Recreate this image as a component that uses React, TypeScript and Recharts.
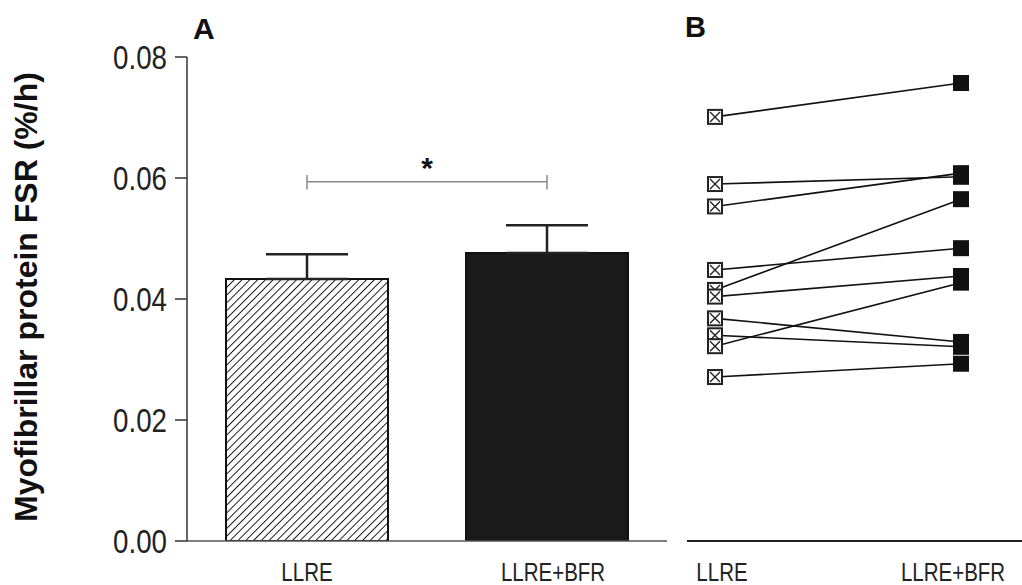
import React from 'react';
import {
  BarChart,
  Bar,
  Cell,
  XAxis,
  YAxis,
  ErrorBar,
  ReferenceLine,
  Label,
  LineChart,
  Line,
} from 'recharts';

// ---- data ----
const conditions = ['LLRE', 'LLRE+BFR'];
const meanFSR = [0.0433, 0.0476];
const semFSR = [0.0041, 0.0046];
const yTicks = [0, 0.02, 0.04, 0.06, 0.08];
const subjectLLRE = [0.0701, 0.059, 0.0553, 0.0448, 0.0415, 0.0404, 0.0368, 0.034, 0.0322, 0.0271];
const subjectLLREBFR = [0.0757, 0.0602, 0.0608, 0.0484, 0.0565, 0.0438, 0.0329, 0.0321, 0.0427, 0.0293];
const sigY = 0.0594;
const sigTickLow = 0.0581;
const sigTickHigh = 0.0605;
const yLabel = 'Myofibrillar protein FSR (%/h)';

const barData = conditions.map((c, i) => ({ cond: c, mean: meanFSR[i], err: [0, semFSR[i]] }));
const lineData = conditions.map((c, i) => {
  const row: any = { cond: c };
  subjectLLRE.forEach((v, j) => {
    row[`s${j}`] = i === 0 ? v : subjectLLREBFR[j];
  });
  return row;
});

const W = 1022;
const H = 585;
const sans = "'Liberation Sans', Arial, sans-serif";

const makeXTick = (shifts: number[]) => (props: any) => {
  const { x, y, payload, index } = props;
  const dx = shifts[index] ?? 0;
  return (
    <text
      transform={`translate(${x + dx},${y + 18}) scale(0.82,1)`}
      textAnchor="middle"
      fontFamily={sans}
      fontSize={25}
      fill="#222"
    >
      {payload.value}
    </text>
  );
};
const XTickA = makeXTick([0, 6]);
const XTickB = makeXTick([7, -8]);

const NarrowYTick = (props: any) => {
  const { x, y, payload } = props;
  return (
    <text
      transform={`translate(${x},${y + 11.5}) scale(0.84,1)`}
      textAnchor="end"
      fontFamily={sans}
      fontSize={33}
      fill="#222"
    >
      {Number(payload.value).toFixed(2)}
    </text>
  );
};

const SubjectDot = (props: any) => {
  const { cx, cy, index, dataKey } = props;
  if (cx == null || cy == null) return <g key={`${dataKey}-${index}`} />;
  if (index === 0) {
    return (
      <g key={`${dataKey}-${index}`}>
        <rect x={cx - 7} y={cy - 7} width={14} height={14} fill="#fff" stroke="#222" strokeWidth={2} />
        <path
          d={`M${cx - 5},${cy - 5}L${cx + 5},${cy + 5}M${cx + 5},${cy - 5}L${cx - 5},${cy + 5}`}
          stroke="#222"
          strokeWidth={1.4}
        />
      </g>
    );
  }
  return <rect key={`${dataKey}-${index}`} x={cx - 8} y={cy - 8} width={16} height={16} fill="#111" />;
};

export default function App() {
  return (
    <div style={{ position: 'absolute', left: 0, top: 0, width: W, height: H, background: '#fff' }}>
      <div style={{ position: 'absolute', left: 0, top: 0 }}>
        <BarChart width={W} height={H} data={barData} margin={{ top: 57, right: 355, bottom: 0, left: 0 }}>
          <defs>
            <pattern id="hatch" patternUnits="userSpaceOnUse" width="5.5" height="5.5" patternTransform="rotate(45)">
              <rect width="5.5" height="5.5" fill="#fff" />
              <line x1="0" y1="0" x2="0" y2="5.5" stroke="#111" strokeWidth="1.9" />
            </pattern>
          </defs>
          <XAxis
            dataKey="cond"
            height={44}
            axisLine={{ stroke: '#555', strokeWidth: 1.5 }}
            tickLine={false}
            tickSize={0}
            tickMargin={22}
            tick={XTickA}
          />
          <YAxis
            width={187}
            domain={[0, 0.08]}
            ticks={yTicks}
            tickSize={12}
            tickMargin={8}
            axisLine={{ stroke: '#333', strokeWidth: 1.5 }}
            tickLine={{ stroke: '#333', strokeWidth: 1.5 }}
            tick={NarrowYTick}
            allowDataOverflow
          >
            <Label
              content={() => (
                <text
                  x={37}
                  y={297}
                  transform="rotate(-90 37 297)"
                  textAnchor="middle"
                  fontFamily={sans}
                  fontWeight="bold"
                  fontSize={32}
                  fill="#111"
                >
                  {yLabel}
                </text>
              )}
            />
          </YAxis>
          <YAxis
            yAxisId="divider"
            orientation="right"
            width={0}
            domain={[0, 0.08]}
            tick={false}
            tickLine={false}
            axisLine={{ stroke: '#444', strokeWidth: 1, strokeDasharray: '4 3' }}
          />
          <Bar dataKey="mean" barSize={162} isAnimationActive={false} stroke="#111" strokeWidth={2}>
            {barData.map((d, i) => (
              <Cell key={d.cond} fill={i === 0 ? 'url(#hatch)' : '#1a1a1a'} />
            ))}
            <ErrorBar dataKey="err" width={41} stroke="#222" strokeWidth={2.5} direction="y" />
          </Bar>
          <ReferenceLine
            segment={[
              { x: conditions[0], y: sigY },
              { x: conditions[1], y: sigY },
            ]}
            stroke="#888"
            strokeWidth={1.5}
          >
            <Label value="*" position="top" offset={4} fontSize={30} fontWeight="bold" fill="#111" fontFamily={sans} />
          </ReferenceLine>
          <ReferenceLine
            segment={[
              { x: conditions[0], y: sigTickLow },
              { x: conditions[0], y: sigTickHigh },
            ]}
            stroke="#888"
            strokeWidth={1.5}
          />
          <ReferenceLine
            segment={[
              { x: conditions[1], y: sigTickLow },
              { x: conditions[1], y: sigTickHigh },
            ]}
            stroke="#888"
            strokeWidth={1.5}
          />
          <text x={193} y={39} fontFamily={sans} fontWeight="bold" fontSize={30} fill="#111">
            A
          </text>
        </BarChart>
      </div>
      <div style={{ position: 'absolute', left: 0, top: 0 }}>
        <LineChart width={W} height={H} data={lineData} margin={{ top: 57, right: 0, bottom: 0, left: 687 }}>
          <XAxis
            dataKey="cond"
            scale="point"
            padding={{ left: 28, right: 61 }}
            height={44}
            axisLine={{ stroke: '#222', strokeWidth: 2 }}
            tickLine={false}
            tickSize={0}
            tickMargin={22}
            tick={XTickB}
          />
          <YAxis hide domain={[0, 0.08]} width={0} />
          {subjectLLRE.map((_, j) => (
            <Line
              key={j}
              dataKey={`s${j}`}
              stroke="#111"
              strokeWidth={1.6}
              isAnimationActive={false}
              dot={SubjectDot}
              activeDot={false}
            />
          ))}
          <text x={685} y={37} fontFamily={sans} fontWeight="bold" fontSize={29} fill="#111">
            B
          </text>
        </LineChart>
      </div>
    </div>
  );
}
